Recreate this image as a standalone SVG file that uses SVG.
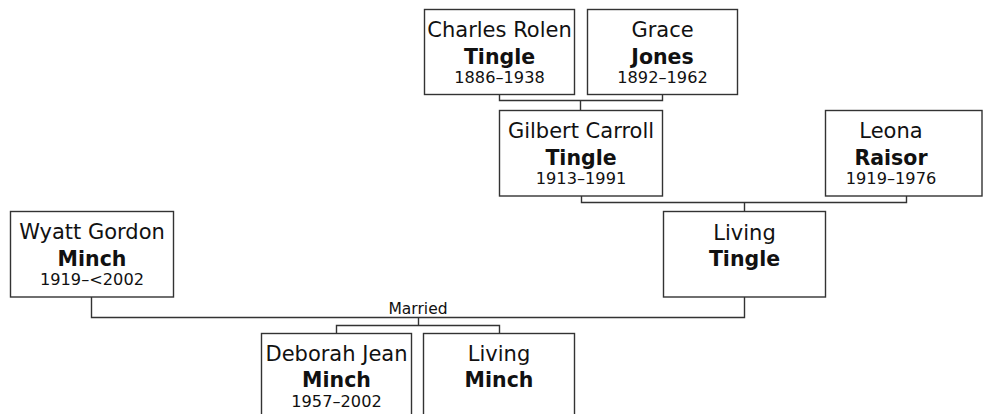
<svg xmlns="http://www.w3.org/2000/svg" width="983" height="414" viewBox="0 0 983 414">
<style>
.box{fill:#fff;stroke:#333;stroke-width:1.4}
.c{fill:none;stroke:#333;stroke-width:1.4}
text{font-family:"DejaVu Sans",Verdana,sans-serif;fill:#111;text-anchor:middle}
.n{font-size:21px}
.b{font-size:20.5px;font-weight:bold}
.d{font-size:16.2px}
.m{font-size:15.5px}
</style>
<rect width="983" height="414" fill="#fff"/>
<g id="connectors">
<path class="c" d="M499.5 94V100.5H662.5V94M580.5 100.5V110"/>
<path class="c" d="M581.5 196V202.5H906.5V196M744.5 202.5V211"/>
<path class="c" d="M91.5 297V317.5H744.5V297M418.5 317.5V325.5M336.5 333V325.5H499.5V333"/>
<text class="m" x="418" y="313.5">Married</text>
</g>
<g id="charles">
<rect class="box" x="424.5" y="9.5" width="150" height="85"/>
<text class="n" x="499.5" y="36.5">Charles Rolen</text>
<text class="b" x="499.5" y="63.5">Tingle</text>
<text class="d" x="499.5" y="83">1886–1938</text>
</g>
<g id="grace">
<rect class="box" x="587.5" y="9.5" width="150" height="85"/>
<text class="n" x="662.5" y="36.5">Grace</text>
<text class="b" x="662.5" y="63.5">Jones</text>
<text class="d" x="662.5" y="83">1892–1962</text>
</g>
<g id="gilbert">
<rect class="box" x="499.5" y="110.5" width="163" height="85.5"/>
<text class="n" x="581" y="138">Gilbert Carroll</text>
<text class="b" x="581" y="165">Tingle</text>
<text class="d" x="581" y="184">1913–1991</text>
</g>
<g id="leona">
<rect class="box" x="825.5" y="110.5" width="156.5" height="85.5"/>
<text class="n" x="891" y="138">Leona</text>
<text class="b" x="891" y="165">Raisor</text>
<text class="d" x="891" y="184">1919–1976</text>
</g>
<g id="wyatt">
<rect class="box" x="10.5" y="211.5" width="163" height="85.5"/>
<text class="n" x="92" y="239">Wyatt Gordon</text>
<text class="b" x="92" y="266">Minch</text>
<text class="d" x="92" y="285">1919–&lt;2002</text>
</g>
<g id="living-tingle">
<rect class="box" x="663.5" y="211.5" width="162" height="85.5"/>
<text class="n" x="744.5" y="240">Living</text>
<text class="b" x="744.5" y="266">Tingle</text>
</g>
<g id="deborah">
<rect class="box" x="261.5" y="333.5" width="150" height="86"/>
<text class="n" x="336.5" y="360.5">Deborah Jean</text>
<text class="b" x="336.5" y="387">Minch</text>
<text class="d" x="336.5" y="406.5">1957–2002</text>
</g>
<g id="living-minch">
<rect class="box" x="423.5" y="333.5" width="151" height="86"/>
<text class="n" x="499" y="360.5">Living</text>
<text class="b" x="499" y="387">Minch</text>
</g>
</svg>
